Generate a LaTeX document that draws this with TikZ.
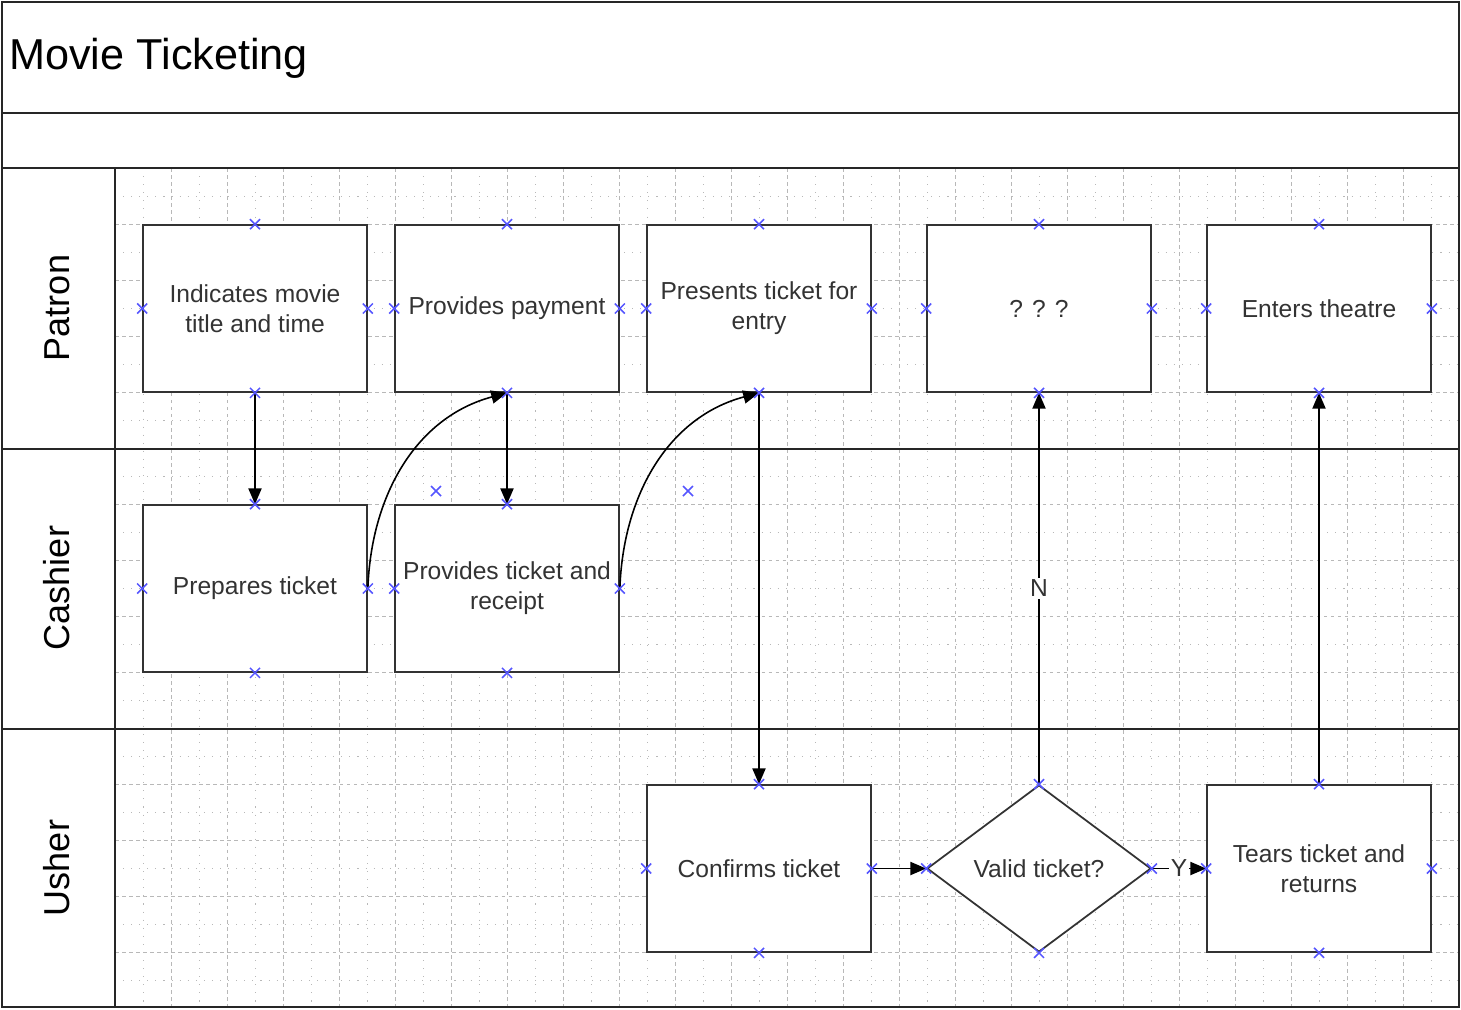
\documentclass[tikz,border=0pt]{standalone}
\usepackage{fontspec}
\setmainfont{Liberation Sans}
\usetikzlibrary{calc,arrows.meta,shapes.geometric}
\definecolor{gridgray}{gray}{0.72}
\definecolor{xblue}{RGB}{85,85,255}
\definecolor{boxtext}{gray}{0.2}
\def\cmark(#1){\draw[xblue, line width=0.9pt] ($(#1)+(-5,-5)$) -- ($(#1)+(5,5)$) ($(#1)+(-5,5)$) -- ($(#1)+(5,-5)$);}

\begin{document}
\begin{tikzpicture}[x=0.02cm, y=-0.02cm,
	task/.style={draw=black!80, line width=1pt, fill=white, minimum width=4.48cm, minimum height=3.34cm, inner sep=0pt, align=center, text=boxtext, font=\fontsize{14}{17}\selectfont},
	decision/.style={task, diamond},
	flow/.style={-{Triangle[length=9pt,width=7.5pt]}, line width=0.9pt, black},
	lbl/.style={fill=white, inner sep=1pt, text=boxtext, font=\fontsize{14}{17}\selectfont},
	lane/.style={rotate=90, font=\fontsize{20.5}{24}\selectfont},
	frame/.style={line width=1.1pt, black!85}]
	%%%%% START %%%%%
	
	\useasboundingbox (0, 0) rectangle (1461, 1009);
	
	% grid
	\foreach \gx in {143,199,...,1431} \draw[gridgray, line width=0.5pt, dash pattern=on 0.6pt off 4pt] (\gx, 168) -- (\gx, 1007);
	\foreach \gy in {196,252,...,980} \draw[gridgray, line width=0.5pt, dash pattern=on 0.6pt off 4pt] (115, \gy) -- (1459, \gy);
	\foreach \gx in {171,227,...,1403} \draw[gridgray, line width=0.5pt, dash pattern=on 2pt off 2pt] (\gx, 168) -- (\gx, 1007);
	\foreach \gy in {224,280,...,952} \draw[gridgray, line width=0.5pt, dash pattern=on 2pt off 2pt] (115, \gy) -- (1459, \gy);
	
	% pool
	\draw[frame] (2, 2) rectangle (1459, 1007);
	\draw[frame] (2, 113) -- (1459, 113);
	\draw[frame] (2, 168) -- (1459, 168);
	\draw[frame] (2, 449) -- (1459, 449);
	\draw[frame] (2, 729) -- (1459, 729);
	\draw[frame] (115, 168) -- (115, 1007);
	
	\node[anchor=west, inner sep=0pt, font=\fontsize{24.6}{29}\selectfont] (title) at (9, 58) {Movie Ticketing};
	
	\node[lane] (lpatron) at (57, 308) {Patron};
	\node[lane] (lcashier) at (57, 588) {Cashier};
	\node[lane] (lusher) at (57, 868) {Usher};
	
	% patron
	\node[task] (ind) at (255, 308.5) {Indicates movie\\title and time};
	\node[task] (pay) at (507, 308.5) {Provides payment};
	\node[task] (pres) at (759, 308.5) {Presents ticket for\\entry};
	\node[task] (qqq) at (1039, 308.5) {? ? ?};
	\node[task] (ent) at (1319, 308.5) {Enters theatre};
	
	% cashier
	\node[task] (prep) at (255, 588.5) {Prepares ticket};
	\node[task] (prov) at (507, 588.5) {Provides ticket and\\receipt};
	
	% usher
	\node[task] (conf) at (759, 868.5) {Confirms ticket};
	\node[decision] (valid) at (1039, 868.5) {Valid ticket?};
	\node[task] (tear) at (1319, 868.5) {Tears ticket and\\returns};
	
	\draw[flow] (ind.south) -- (prep.north);
	\draw[flow] (prep.east) to[out=88, in=195] (pay.south);
	\draw[flow] (pay.south) -- (prov.north);
	\draw[flow] (prov.east) to[out=88, in=195] (pres.south);
	\draw[flow] (pres.south) -- (conf.north);
	\draw[flow] (conf.east) -- (valid.west);
	\draw[flow] (valid.east) -- node[lbl] {Y} (tear.west);
	\draw[flow] (valid.north) -- node[lbl] {N} (qqq.south);
	\draw[flow] (tear.north) -- (ent.south);
	
	% connection points
	\foreach \n in {ind,pay,pres,qqq,ent,prep,prov,conf,valid,tear}{
		\foreach \a in {north,south,east,west}{
			\cmark(\n.\a)
		}
	}
	\cmark(436, 491)
	\cmark(688, 491)
	
	%%%%% END %%%%%
\end{tikzpicture}
\end{document}
